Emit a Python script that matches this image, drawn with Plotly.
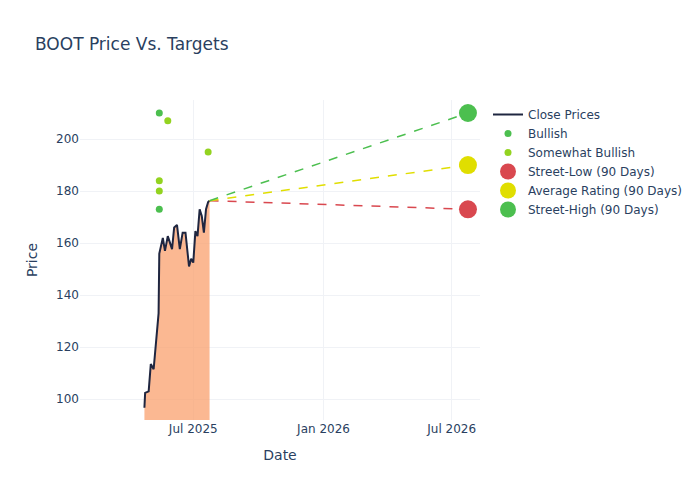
import plotly.graph_objects as go

close_dates = ["2025-04-23", "2025-04-24", "2025-04-29", "2025-05-02", "2025-05-06", "2025-05-08",
               "2025-05-13", "2025-05-14", "2025-05-19", "2025-05-22", "2025-05-26", "2025-06-01",
               "2025-06-04", "2025-06-08", "2025-06-12", "2025-06-16", "2025-06-20", "2025-06-25",
               "2025-06-28", "2025-07-01", "2025-07-04", "2025-07-07", "2025-07-10", "2025-07-13",
               "2025-07-16", "2025-07-19", "2025-07-22", "2025-07-24"]
close_prices = [96.7, 102.4, 103.0, 113.5, 111.5, 118.5, 133.0, 156.0, 162.0, 157.0, 162.7, 157.7,
                166.0, 167.0, 157.7, 164.0, 164.0, 151.0, 154.0, 152.5, 164.6, 162.7, 173.0, 170.4,
                164.0, 173.0, 175.8, 176.3]

bullish_dates = ["2025-05-14", "2025-05-14"]
bullish_prices = [210, 173]
swb_dates = ["2025-05-14", "2025-05-14", "2025-05-26", "2025-07-22"]
swb_prices = [184, 180, 207, 195]

target_date = "2026-07-24"
street_low = 173
average = 190
street_high = 210

fig = go.Figure()
fig.add_trace(go.Scatter(x=close_dates, y=close_prices, mode="lines", fill="tozeroy",
                         line=dict(width=0), fillcolor="rgba(249,160,110,0.75)",
                         showlegend=False, hoverinfo="skip"))
fig.add_trace(go.Scatter(x=close_dates, y=close_prices, mode="lines", name="Close Prices",
                         line=dict(color="#1f2640", width=2)))
fig.add_trace(go.Scatter(x=bullish_dates, y=bullish_prices, mode="markers", name="Bullish",
                         marker=dict(color="#4cbf4f", size=7)))
fig.add_trace(go.Scatter(x=swb_dates, y=swb_prices, mode="markers", name="Somewhat Bullish",
                         marker=dict(color="#93d320", size=7)))
last_d, last_p = close_dates[-1], close_prices[-1]
for name, val, col in [("Street-Low (90 Days)", street_low, "#d9484f"),
                       ("Average Rating (90 Days)", average, "#e0de00"),
                       ("Street-High (90 Days)", street_high, "#4cbf4f")]:
    fig.add_trace(go.Scatter(x=[last_d, target_date], y=[last_p, val], mode="lines",
                             line=dict(color=col, dash="dash", width=1.5), showlegend=False))
    fig.add_trace(go.Scatter(x=[target_date], y=[val], mode="markers", name=name,
                             marker=dict(color=col, size=18)))

fig.update_layout(
    template="plotly_white",
    width=700, height=500,
    font=dict(family="DejaVu Sans", size=12),
    title=dict(text="BOOT Price Vs. Targets", x=0.05, xanchor="left",
               y=0.912, yanchor="middle", font=dict(size=17)),
    xaxis=dict(title="Date", range=["2025-01-22", "2026-08-10"],
               tickvals=["2025-07-01", "2026-01-01", "2026-07-01"],
               ticktext=["Jul 2025", "Jan 2026", "Jul 2026"], gridcolor="#f0f2f6"),
    yaxis=dict(title="Price", range=[92, 215], gridcolor="#f0f2f6"),
    margin=dict(l=80, r=220, t=100, b=80, autoexpand=False),
    legend=dict(x=1.02, y=1.0, font=dict(size=12), tracegroupgap=0),
)
fig.write_html("out.html", config={"displayModeBar": False},
               post_script="document.body.style.margin='0';")
